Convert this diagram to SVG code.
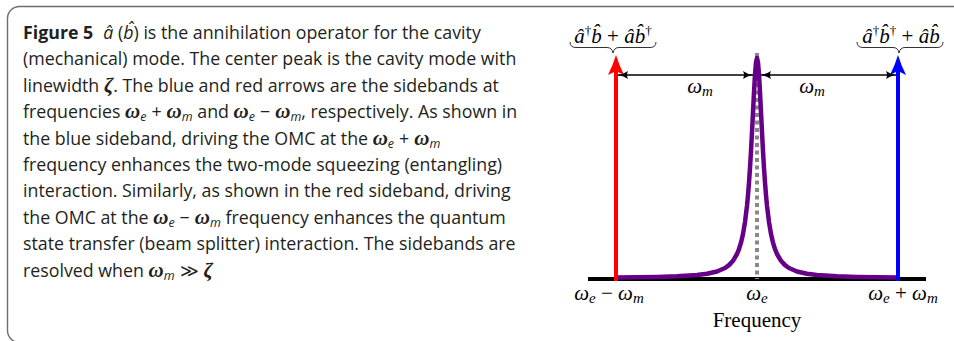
<svg xmlns="http://www.w3.org/2000/svg" width="954" height="341" viewBox="0 0 954 341">
<style>
.cap{font-family:"Open Sans","Liberation Sans",sans-serif;font-size:17.8px;fill:#231f20}
.mi{font-family:"Liberation Serif",serif;font-style:italic;font-size:21px;font-weight:bold}
.sb{font-size:12.5px;font-style:italic;font-family:"Open Sans",sans-serif}
.m{font-family:"Liberation Serif","DejaVu Serif",serif;font-size:21px;fill:#000}
.it{font-style:italic}
.sub{font-size:15px;font-style:italic}
</style>
<defs>
<marker id="ah" viewBox="0 0 10 8" refX="10" refY="4" markerWidth="10" markerHeight="8" markerUnits="userSpaceOnUse" orient="auto-start-reverse">
<path d="M0,0 Q4,3 10,4 Q4,5 0,8 Q2,4 0,0Z" fill="#000"/>
</marker>
</defs>
<rect x="7.5" y="6.5" width="960" height="336" rx="12" fill="none" stroke="#6e6e6e" stroke-width="1.4"/>
<g id="caption" class="cap">
<text x="23" y="39"><tspan font-weight="bold">Figure 5</tspan><tspan dx="10" font-style="italic">â</tspan> (<tspan font-style="italic">b̂</tspan>) is the annihilation operator for the cavity</text>
<text x="23" y="65.4">(mechanical) mode. The center peak is the cavity mode with</text>
<text x="23" y="91.8">linewidth <tspan class="mi">ζ</tspan>. The blue and red arrows are the sidebands at</text>
<text x="23" y="118.2">frequencies <tspan class="mi">ω</tspan><tspan class="sb" dy="3">e</tspan><tspan dy="-3" dx="5">+</tspan><tspan class="mi" dx="5">ω</tspan><tspan class="sb" dy="3">m</tspan><tspan dy="-3"> and </tspan><tspan class="mi">ω</tspan><tspan class="sb" dy="3">e</tspan><tspan dy="-3" dx="5">−</tspan><tspan class="mi" dx="5">ω</tspan><tspan class="sb" dy="3">m</tspan><tspan dy="-3">, respectively. As shown in</tspan></text>
<text x="23" y="144.6">the blue sideband, driving the OMC at the <tspan class="mi">ω</tspan><tspan class="sb" dy="3">e</tspan><tspan dy="-3" dx="5">+</tspan><tspan class="mi" dx="5">ω</tspan><tspan class="sb" dy="3">m</tspan></text>
<text x="23" y="171">frequency enhances the two-mode squeezing (entangling)</text>
<text x="23" y="197.4">interaction. Similarly, as shown in the red sideband, driving</text>
<text x="23" y="223.8">the OMC at the <tspan class="mi">ω</tspan><tspan class="sb" dy="3">e</tspan><tspan dy="-3" dx="5">−</tspan><tspan class="mi" dx="5">ω</tspan><tspan class="sb" dy="3">m</tspan><tspan dy="-3"> frequency enhances the quantum</tspan></text>
<text x="23" y="250.2">state transfer (beam splitter) interaction. The sidebands are</text>
<text x="23" y="276.6">resolved when <tspan class="mi">ω</tspan><tspan class="sb" dy="3">m</tspan><tspan dy="-3" dx="5">≫</tspan><tspan class="mi" dx="5">ζ</tspan></text>
</g>
<g id="axis">
<line x1="588" y1="279" x2="926" y2="279" stroke="#000" stroke-width="4"/>
</g>
<g id="center-line">
<line x1="757" y1="53" x2="757" y2="279" stroke="#888" stroke-width="4" stroke-dasharray="4 3.5"/>
</g>
<g id="peak">
<path d="M616,277.5 L637,277.3 L657,276.9 L677,276.3 L697,275 L707,273.8 L717,271.5 L725,268 L729,265.1 L733,260.8 L737,254 L739,249.1 L741,242.7 L743,234 L745,222.1 L747,205.7 L748,195.1 L749,182.6 L750,168 L751,151.2 L752,132.3 L753,112.2 L754,92.1 L755,74.6 L756,62.4 L757,58 L758,62.4 L759,74.6 L760,92.1 L761,112.2 L762,132.3 L763,151.2 L764,168 L765,182.6 L766,195.1 L767,205.7 L769,222.1 L771,234 L773,242.7 L775,249.1 L777,254 L781,260.8 L785,265.1 L789,268 L797,271.5 L807,273.8 L817,275 L837,276.3 L857,276.9 L877,277.3 L898,277.5" fill="none" stroke="#660088" stroke-width="4.5" stroke-linejoin="round" stroke-linecap="round"/>
</g>
<g id="red-sideband">
<line x1="616" y1="281" x2="616" y2="70" stroke="#ff0000" stroke-width="4"/>
<path d="M616,55 Q619,65 624,75 L616,71 L608,75 Q613,65 616,55Z" fill="#ff0000"/>
</g>
<g id="blue-sideband">
<line x1="898" y1="281" x2="898" y2="70" stroke="#0000ff" stroke-width="4"/>
<path d="M898,55 Q901,65 906,75 L898,71 L890,75 Q895,65 898,55Z" fill="#0000ff"/>
</g>
<g id="connectors" stroke="#000" stroke-width="1.5" fill="none">
<line x1="618" y1="75" x2="753" y2="75" marker-start="url(#ah)" marker-end="url(#ah)"/>
<line x1="761" y1="75" x2="896" y2="75" marker-start="url(#ah)" marker-end="url(#ah)"/>
</g>
<g id="braces" fill="none" stroke="#333" stroke-width="1">
<path d="M570,42 Q570,47.5 576,47.5 L607,47.5 Q612,47.5 613,53 Q614,47.5 619,47.5 L650,47.5 Q656,47.5 656,42"/>
<path d="M857,42 Q857,47.5 863,47.5 L893,47.5 Q898,47.5 899,53 Q900,47.5 905,47.5 L937,47.5 Q943,47.5 943,42"/>
</g>
<g id="labels" class="m">
<text x="613" y="43" text-anchor="middle"><tspan class="it">â</tspan><tspan font-size="13" dy="-8">†</tspan><tspan class="it" dy="8">b̂</tspan> + <tspan class="it">âb̂</tspan><tspan font-size="13" dy="-8">†</tspan></text>
<text x="901" y="43" text-anchor="middle"><tspan class="it">â</tspan><tspan font-size="13" dy="-8">†</tspan><tspan class="it" dy="8">b̂</tspan><tspan font-size="13" dy="-8">†</tspan><tspan dy="8"> + </tspan><tspan class="it">âb̂</tspan></text>
<text x="700" y="93" text-anchor="middle"><tspan class="it">ω</tspan><tspan class="sub" dy="3">m</tspan></text>
<text x="812" y="93" text-anchor="middle"><tspan class="it">ω</tspan><tspan class="sub" dy="3">m</tspan></text>
<text x="609" y="300" text-anchor="middle"><tspan class="it">ω</tspan><tspan class="sub" dy="3">e</tspan><tspan dy="-3"> − </tspan><tspan class="it">ω</tspan><tspan class="sub" dy="3">m</tspan></text>
<text x="757" y="300" text-anchor="middle"><tspan class="it">ω</tspan><tspan class="sub" dy="3">e</tspan></text>
<text x="903" y="300" text-anchor="middle"><tspan class="it">ω</tspan><tspan class="sub" dy="3">e</tspan><tspan dy="-3"> + </tspan><tspan class="it">ω</tspan><tspan class="sub" dy="3">m</tspan></text>
<text x="757" y="327" text-anchor="middle">Frequency</text>
</g>
</svg>
